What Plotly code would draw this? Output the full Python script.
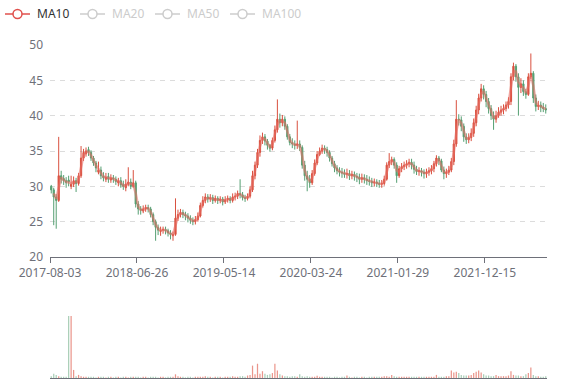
import plotly.graph_objects as go

# ---------------- data ----------------
tick_labels = ["2017-08-03", "2018-06-26", "2019-05-14", "2020-03-24", "2021-01-29", "2021-12-15"]
label_interval = 35  # candles between labelled categories

opens = [
    30.0, 29.5, 28.5, 28.0, 31.5, 31.1, 30.8, 30.9, 30.0, 30.3,
    30.8, 30.4, 31.5, 34.0, 34.6, 35.2, 34.8, 34.0, 33.3, 32.0,
    32.3, 31.5, 31.0, 31.4, 30.9, 31.2, 31.0, 30.5, 30.8, 30.3,
    29.8, 30.3, 30.6, 30.0, 30.5, 27.5, 26.8, 26.5, 26.8, 27.0,
    26.8, 26.0, 25.0, 24.2, 23.6, 23.8, 23.9, 23.7, 23.4, 23.0,
    23.2, 25.5, 26.0, 26.3, 26.0, 25.8, 25.5, 25.2, 25.0, 25.3,
    25.8, 27.3, 28.0, 28.5, 28.2, 28.4, 28.0, 28.3, 28.0, 28.2,
    27.8, 28.1, 28.3, 28.0, 28.5, 28.6, 29.0, 28.8, 28.4, 28.3,
    28.6, 29.5, 31.5, 33.0, 34.8, 36.5, 37.0, 36.4, 35.8, 35.4,
    36.5, 38.0, 39.5, 39.0, 39.5, 38.5, 37.0, 36.2, 36.0, 35.8,
    36.0, 35.5, 33.0, 31.5, 31.0, 30.5, 31.8, 33.3, 34.5, 35.0,
    35.4, 35.2, 34.8, 34.0, 33.2, 32.6, 32.2, 32.0, 31.9, 31.7,
    31.8, 31.5, 31.7, 31.4, 31.3, 31.0, 31.2, 31.0, 30.8, 30.7,
    30.5, 30.6, 30.4, 30.3, 30.4, 31.0, 33.0, 33.5, 33.8, 33.0,
    31.5, 32.5, 32.8, 33.0, 33.2, 33.4, 33.0, 32.4, 32.1, 32.2,
    32.0, 31.8, 32.0, 32.2, 32.5, 33.2, 34.0, 33.6, 32.3, 31.8,
    32.0, 32.3, 33.5, 36.0, 39.5, 39.4, 38.5, 37.0, 36.6, 36.9,
    37.5, 39.0, 40.8, 42.5, 43.8, 43.0, 42.0, 41.0, 40.0, 39.5,
    40.0, 40.5, 40.8, 41.0, 41.5, 42.0, 45.5, 47.0, 45.5, 44.0,
    44.5, 43.4, 43.0, 45.5, 46.0, 42.5, 41.3, 41.5, 41.2, 41.0,
]
closes = [
    29.5, 28.5, 28.0, 31.5, 31.0, 30.8, 30.5, 30.6, 30.3, 30.8,
    30.4, 31.5, 34.0, 34.8, 35.0, 34.8, 34.0, 33.3, 32.6, 32.3,
    31.5, 31.2, 31.3, 31.0, 31.2, 31.0, 30.7, 30.8, 30.2, 30.0,
    30.3, 30.6, 30.0, 30.5, 27.5, 26.8, 26.6, 26.8, 27.0, 26.8,
    26.0, 25.0, 24.2, 23.8, 23.8, 23.9, 23.7, 23.4, 23.2, 23.2,
    25.5, 26.0, 26.3, 26.0, 25.8, 25.5, 25.2, 25.0, 25.3, 25.8,
    27.3, 28.0, 28.5, 28.2, 28.4, 28.0, 28.3, 28.0, 28.2, 27.8,
    28.1, 28.3, 28.0, 28.5, 28.6, 29.0, 28.8, 28.4, 28.3, 28.6,
    29.5, 31.5, 33.0, 34.8, 36.5, 37.0, 36.4, 35.8, 35.4, 36.5,
    38.0, 39.5, 39.0, 39.5, 38.5, 37.0, 36.2, 36.0, 35.8, 36.0,
    35.5, 33.0, 31.5, 31.0, 30.5, 31.8, 33.3, 34.5, 35.0, 35.4,
    35.2, 34.8, 34.0, 33.2, 32.6, 32.2, 32.0, 31.9, 31.7, 31.8,
    31.5, 31.7, 31.4, 31.3, 31.0, 31.2, 31.0, 30.8, 30.7, 30.5,
    30.6, 30.4, 30.3, 30.4, 31.0, 33.0, 33.5, 33.8, 33.0, 31.5,
    32.5, 32.8, 33.0, 33.2, 33.4, 33.0, 32.4, 32.1, 32.2, 32.0,
    31.8, 32.0, 32.2, 32.5, 33.2, 34.0, 33.6, 32.3, 31.8, 32.0,
    32.3, 33.5, 36.0, 39.5, 39.4, 38.5, 37.0, 36.6, 36.9, 37.5,
    39.0, 40.8, 42.5, 43.8, 43.0, 42.0, 41.0, 40.0, 39.5, 40.0,
    40.5, 40.8, 41.0, 41.5, 42.0, 45.5, 47.0, 45.5, 44.0, 44.5,
    43.4, 43.0, 45.5, 46.0, 42.5, 41.3, 41.5, 41.2, 41.0, 40.8,
]
highs = [
    30.2, 29.8, 28.9, 37.0, 32.2, 31.6, 31.3, 31.5, 31.5, 31.4,
    31.2, 31.9, 35.7, 35.3, 35.5, 35.6, 35.1, 34.3, 33.6, 33.5,
    32.8, 32.0, 31.9, 31.9, 31.7, 31.6, 31.4, 31.2, 31.3, 30.8,
    31.0, 32.7, 31.1, 32.3, 30.8, 27.9, 27.2, 27.3, 27.4, 27.4,
    27.1, 26.3, 25.3, 24.6, 24.3, 24.3, 24.3, 24.0, 23.8, 23.6,
    28.3, 26.7, 26.8, 26.7, 26.4, 26.2, 25.9, 25.6, 25.8, 26.3,
    27.7, 28.6, 29.0, 28.9, 28.9, 28.8, 28.7, 28.6, 28.6, 28.5,
    28.6, 28.7, 28.6, 29.0, 29.1, 29.4, 31.0, 29.2, 28.8, 29.0,
    30.0, 32.2, 33.5, 35.3, 37.2, 37.6, 37.4, 36.7, 36.0, 36.9,
    38.6, 42.3, 40.3, 40.1, 39.9, 38.8, 37.4, 36.8, 36.5, 39.3,
    36.5, 35.8, 33.6, 32.2, 31.6, 32.3, 33.8, 35.0, 35.5, 35.9,
    35.8, 35.6, 35.1, 34.3, 33.6, 33.0, 32.7, 32.6, 32.4, 32.5,
    32.3, 32.2, 32.1, 31.9, 31.8, 31.8, 31.7, 31.6, 31.4, 31.2,
    31.1, 31.0, 30.9, 30.9, 31.5, 33.4, 34.7, 34.2, 34.1, 33.4,
    32.9, 33.3, 33.5, 33.7, 33.9, 33.9, 33.5, 32.9, 32.7, 32.6,
    32.4, 32.5, 32.7, 33.0, 33.6, 34.4, 34.3, 33.9, 32.8, 32.5,
    32.9, 34.0, 36.6, 42.2, 40.2, 39.9, 38.9, 37.5, 37.5, 38.2,
    39.6, 41.4, 43.1, 44.5, 44.3, 43.5, 42.5, 41.5, 40.6, 40.7,
    41.2, 41.4, 41.6, 42.0, 42.6, 46.0, 47.5, 47.3, 46.0, 45.3,
    45.0, 43.8, 46.0, 48.8, 46.3, 43.0, 42.1, 42.0, 41.8, 41.6,
]
lows = [
    29.0, 24.5, 24.0, 27.8, 30.4, 30.2, 29.8, 30.0, 29.6, 29.9,
    29.2, 30.1, 31.2, 33.6, 34.2, 34.3, 33.6, 32.9, 32.0, 31.7,
    31.0, 30.7, 30.6, 30.5, 30.5, 30.5, 30.2, 30.0, 29.8, 29.5,
    29.3, 30.0, 29.6, 29.8, 27.0, 26.0, 26.0, 26.2, 26.4, 26.3,
    25.6, 24.5, 22.3, 23.1, 23.0, 23.3, 23.2, 22.9, 22.5, 22.3,
    23.0, 25.1, 25.6, 25.5, 25.2, 24.9, 24.7, 24.5, 24.6, 25.0,
    25.6, 27.0, 27.6, 27.7, 27.8, 27.5, 27.7, 27.5, 27.6, 27.3,
    27.5, 27.7, 27.6, 27.7, 28.0, 28.2, 28.3, 28.0, 27.8, 28.0,
    28.3, 29.2, 31.0, 32.6, 34.2, 36.0, 35.8, 35.2, 34.9, 35.1,
    36.2, 37.6, 38.3, 38.5, 38.0, 36.6, 35.8, 35.4, 35.2, 35.3,
    35.0, 32.5, 30.8, 29.3, 29.8, 30.2, 31.5, 33.0, 34.3, 34.6,
    34.6, 34.2, 33.5, 32.8, 32.0, 31.7, 31.4, 31.2, 31.2, 31.1,
    30.9, 31.0, 30.8, 30.6, 30.3, 30.5, 30.4, 30.2, 30.1, 29.9,
    30.0, 29.9, 29.8, 29.8, 30.1, 30.8, 32.6, 33.0, 32.5, 30.5,
    31.2, 32.0, 32.3, 32.5, 32.7, 32.4, 31.8, 31.6, 31.5, 31.4,
    31.1, 31.2, 31.5, 31.7, 32.0, 32.8, 33.0, 32.0, 31.0, 31.2,
    31.6, 32.0, 33.0, 35.6, 38.6, 37.8, 36.3, 36.0, 36.1, 36.4,
    37.0, 38.5, 40.2, 42.0, 42.3, 41.2, 40.3, 39.4, 38.0, 39.0,
    39.7, 40.0, 40.2, 40.6, 41.0, 41.5, 45.0, 44.8, 40.0, 43.2,
    42.8, 42.4, 42.8, 45.2, 41.8, 40.6, 40.8, 40.5, 40.5, 40.3,
]
# relative volume (tallest bar = 100)
volumes = [
    3, 7, 5, 3, 2, 2, 2, 100, 100, 13,
    3, 5, 3, 2, 2, 2, 2, 2, 1, 2,
    2, 2, 1, 2, 2, 1, 2, 2, 1, 2,
    2, 1, 2, 2, 2, 2, 1, 2, 2, 1,
    2, 2, 2, 1, 2, 2, 1, 2, 2, 2,
    6, 3, 2, 2, 1, 2, 2, 1, 2, 2,
    2, 2, 3, 2, 2, 1, 2, 2, 2, 1,
    2, 2, 2, 3, 2, 2, 3, 3, 2, 4,
    5, 20, 6, 23, 7, 11, 7, 5, 6, 8,
    23, 12, 6, 4, 3, 3, 2, 3, 3, 2,
    6, 3, 2, 3, 2, 2, 2, 3.5, 2, 2,
    2, 2, 2, 1, 2, 2, 1, 2, 2, 4,
    2, 1, 2, 2, 1, 2, 2, 1, 2, 2,
    2, 2, 2, 2, 3, 3, 2, 5, 3, 2,
    2, 2, 2, 2, 2, 2, 2, 2, 2, 2,
    2, 2, 2, 2, 2, 5, 2, 2, 2, 3,
    3, 12, 9, 10, 8, 5, 4, 4, 4, 5,
    8, 10, 12, 9, 6, 4, 4, 3, 3, 5,
    3, 3, 3, 3, 4, 11, 5, 4, 4, 3,
    3, 6, 8, 17, 5, 3, 3, 2, 2, 3,
]
legend_names = ["MA10", "MA20", "MA50", "MA100"]

# ---------------- derived ----------------
n = len(closes)
idx = list(range(n))
ma_window = 2  # ten trading days ~ two of these aggregated candles
ma10 = [None if i < ma_window - 1 else sum(closes[i - ma_window + 1:i + 1]) / ma_window for i in idx]

UP = "#d9503f"
DOWN = "#559f72"
vol_colors = ["rgba(220,80,64,0.6)" if c >= o else "rgba(85,159,114,0.5)" for o, c in zip(opens, closes)]

# pixel geometry helpers (577 x 386 canvas)
W, H = 577, 386
ML, MR, MT, MB = 50, 30, 45, 8
PW, PH = W - ML - MR, H - MT - MB
def px(xp):
    return (xp - ML) / PW
def py(yp):
    return (H - MB - yp) / PH

fig = go.Figure()
fig.add_trace(go.Candlestick(
    x=idx, open=opens, high=highs, low=lows, close=closes,
    increasing=dict(line=dict(color=UP, width=1), fillcolor=UP),
    decreasing=dict(line=dict(color=DOWN, width=1), fillcolor=DOWN),
    whiskerwidth=0, showlegend=False, hoverinfo="skip",
    xaxis="x", yaxis="y",
))
fig.add_trace(go.Scatter(
    x=idx, y=ma10, mode="lines", name="MA10",
    line=dict(color="rgba(232,110,100,0.55)", width=2.5),
    showlegend=False, hoverinfo="skip", xaxis="x", yaxis="y",
))
fig.add_trace(go.Bar(
    x=idx, y=volumes, marker=dict(color=vol_colors, line=dict(width=0)),
    showlegend=False, hoverinfo="skip", xaxis="x2", yaxis="y2",
))

# manual legend (ECharts style: line + hollow circle icon)
shapes, annotations = [], []
legend_icon_x = [5, 80, 155, 230]
legend_y = 14
for k, name in enumerate(legend_names):
    col = "#e0504c" if k == 0 else "#cccccc"
    tcol = "#333333" if k == 0 else "#cccccc"
    x0 = legend_icon_x[k]
    shapes.append(dict(type="line", xref="paper", yref="paper",
                       x0=px(x0), x1=px(x0 + 25), y0=py(legend_y), y1=py(legend_y),
                       line=dict(color=col, width=1.5)))
    shapes.append(dict(type="circle", xref="paper", yref="paper",
                       xsizemode="pixel", ysizemode="pixel",
                       xanchor=px(x0 + 12.5), yanchor=py(legend_y),
                       x0=-4.5, x1=4.5, y0=-4.5, y1=4.5,
                       fillcolor="white", line=dict(color=col, width=1.5)))
    annotations.append(dict(text=name, xref="paper", yref="paper",
                            x=px(x0 + 30), y=py(legend_y), xanchor="left", yanchor="middle",
                            showarrow=False, font=dict(size=12, color=tcol)))

main_bottom = py(257)
vol_top = py(316)
tickvals = [i * label_interval - 0.5 for i in range(len(tick_labels))]

fig.update_layout(
    width=W, height=H,
    margin=dict(l=ML, r=MR, t=MT, b=MB, autoexpand=False),
    paper_bgcolor="white", plot_bgcolor="white",
    font=dict(family="Noto Sans, sans-serif", size=12, color="#6e7079"),
    showlegend=False,
    shapes=shapes, annotations=annotations,
    xaxis=dict(domain=[0, 1], anchor="y", range=[-0.5, n - 0.5],
               tickvals=tickvals, ticktext=tick_labels,
               showline=True, linecolor="#6e7079", linewidth=1,
               ticks="outside", ticklen=5, tickcolor="#6e7079",
               showgrid=False, zeroline=False, rangeslider=dict(visible=False),
               tickfont=dict(size=12, color="#6e7079")),
    yaxis=dict(domain=[main_bottom, 1], anchor="x", range=[20, 50], dtick=5,
               showgrid=True, gridcolor="#dcdcdc", griddash="5px,5px", gridwidth=1,
               zeroline=False, showline=False, ticks="",
               tickfont=dict(size=12, color="#6e7079"), ticklabelstandoff=6),
    xaxis2=dict(domain=[0, 1], anchor="y2", range=[-0.5, n - 0.5],
                showticklabels=False, showline=True, linecolor="#6e7079", linewidth=1,
                ticks="", showgrid=False, zeroline=False),
    yaxis2=dict(domain=[0, vol_top], anchor="x2", range=[0, 100],
                visible=False, showgrid=False, zeroline=False),
    bargap=0.5,
)

# remove the default page margin so the figure sits at the window's top-left corner
fig.write_html("out.html", config={"displayModeBar": False},
               post_script="document.body.style.margin='0';")
